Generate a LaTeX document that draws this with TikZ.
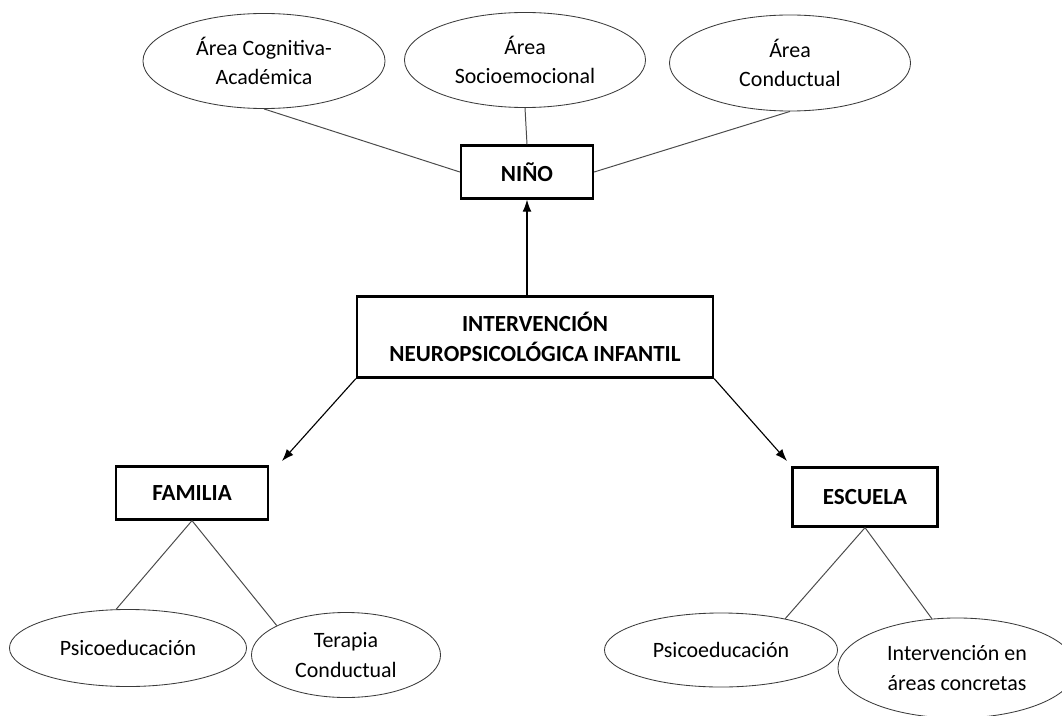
\documentclass[tikz,border=0pt]{standalone}
\usepackage{fontspec}
\setmainfont{Carlito}
\usepackage{tikz}
\usetikzlibrary{arrows.meta,positioning,calc,shapes.geometric}
\definecolor{MapLine}{HTML}{4A4A4A}
\definecolor{MapEdge}{HTML}{3A3A3A}

\begin{document}
\begin{tikzpicture}[
  x=0.025cm,y=-0.025cm,
  font=\fontsize{15.6}{21}\selectfont,
  oval/.style={ellipse,draw=MapEdge,line width=0.6pt,inner sep=0pt,align=center},
  box/.style={draw=black,line width=1.6pt,inner sep=0pt,align=center,font=\fontsize{16.4}{21.5}\selectfont\bfseries},
  link/.style={draw=MapLine,line width=0.7pt},
  arrow/.style={-{Latex[length=3mm,width=2.2mm]},line width=0.8pt,draw=black}
]
\useasboundingbox (0,0) rectangle (1062,715);
% top: areas of the child
\node[oval,minimum width=6.05cm,minimum height=2.375cm] (cog) at (264,61) {Área Cognitiva-\\Académica};
\node[oval,minimum width=6.025cm,minimum height=2.375cm] (soc) at (525,60) {Área\\Socioemocional};
\node[oval,minimum width=6.025cm,minimum height=2.4cm] (con) at (790,63) {Área\\Conductual};
\node[box,minimum width=3.3cm,minimum height=1.325cm] (nino) at (527,172) {NIÑO};
\draw[link] (cog.south) -- (nino.west);
\draw[link] (soc.south) -- (nino.north);
\draw[link] (con.south) -- (nino.east);
% centre
\node[box,minimum width=8.9cm,minimum height=2.025cm] (inter) at (535,337) {INTERVENCIÓN\\NEUROPSICOLÓGICA INFANTIL};
\draw[arrow] (nino.south |- inter.north) -- (nino.south);
% family
\node[box,minimum width=3.8cm,minimum height=1.325cm] (fam) at (192,493) {FAMILIA};
\coordinate (famtip) at (282,461);
\draw[arrow] (inter.south west) -- (famtip);
\node[oval,minimum width=5.925cm,minimum height=1.925cm] (psifam) at (128,648) {Psicoeducación};
\node[oval,minimum width=4.725cm,minimum height=2.125cm] (ter) at (346,655) {Terapia\\Conductual};
\draw[link] (fam.south) -- (psifam.107);
\draw[link] (fam.south) -- (ter.157);
% school
\node[box,minimum width=3.625cm,minimum height=1.475cm] (esc) at (865,497) {ESCUELA};
\coordinate (esctip) at (787,461);
\draw[arrow] (inter.south east) -- (esctip);
\node[oval,minimum width=5.825cm,minimum height=1.85cm] (psiesc) at (721,650) {Psicoeducación};
\node[oval,minimum width=5.95cm,minimum height=2.5cm] (conc) at (957,668) {Intervención en\\áreas concretas};
\draw[link] (esc.south) -- (psiesc.26);
\draw[link] (esc.south) -- (conc.117);
\end{tikzpicture}
\end{document}
